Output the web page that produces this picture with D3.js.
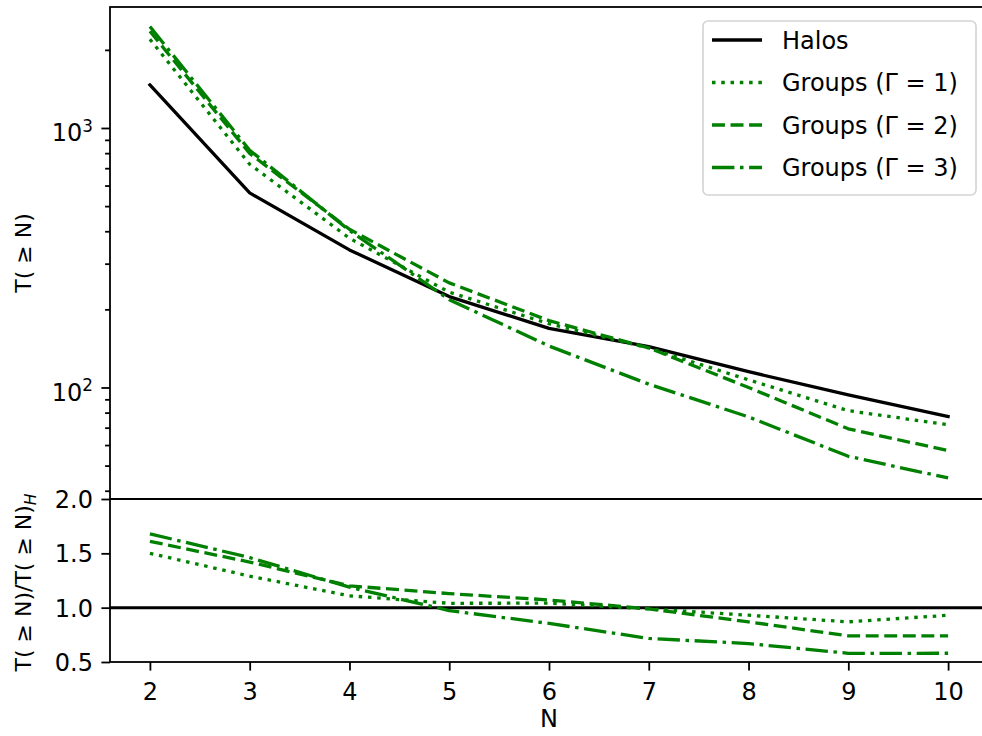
<!DOCTYPE html>
<html>
<head>
<meta charset="utf-8">
<script src="https://cdn.jsdelivr.net/npm/d3@7/dist/d3.min.js"></script>
<style>
  html, body { margin: 0; padding: 0; background: #fff; }
  svg { display: block; font-family: "DejaVu Sans", sans-serif; }
</style>
</head>
<body>
<svg id="chart" width="982" height="736"></svg>
<script>
// ---------------- data ----------------
const Ns = [2, 3, 4, 5, 6, 7, 8, 9, 10];
const halos   = [1465, 562, 339, 224, 169, 143.6, 115, 93.6, 77.2];
const groupsG1 = [2198, 725, 376, 233, 176, 142, 107, 81.4, 71.8];
const groupsG2 = [2359, 798, 407, 253, 181, 142, 100, 69.3, 57.1];
const groupsG3 = [2461, 821, 403, 218, 144.5, 103, 77, 54.3, 44.8];
const seriesNames = ["Halos", "Groups (Γ = 1)", "Groups (Γ = 2)", "Groups (Γ = 3)"];
const xTicks = [2, 3, 4, 5, 6, 7, 8, 9, 10];
const topMajorTicks = [100, 1000];
const topMinorTicks = [40, 50, 60, 70, 80, 90, 200, 300, 400, 500, 600, 700, 800, 900, 2000];
const ratioTicks = [0.5, 1.0, 1.5, 2.0];

// ---------------- layout ----------------
const FS = 24;
const LW = 3.3;
const DU = 3.5; // dash unit
const SPINE = 1.8;
const TICK = 8.6, MINOR = 4.9, PAD = 8.4;
const pLeft = 110, pRight = 988, pTop = 7, pMid = 499, pBottom = 662;

const svg = d3.select("#chart");
const x = d3.scaleLinear().domain([1.6, 10.4]).range([pLeft, pRight]);
const yTop = d3.scaleLog().domain([37.17, 2926]).range([pMid, pTop]);
const yBot = d3.scaleLinear().domain([0.5, 2.0]).range([pBottom, pMid]);

const green = "#008000";
const styles = [
  { color: "#000000", dash: null },
  { color: green, dash: [1 * DU, 1.65 * DU] },
  { color: green, dash: [3.7 * DU, 1.6 * DU] },
  { color: green, dash: [6.4 * DU, 1.6 * DU, 1 * DU, 1.6 * DU] }
];

const defs = svg.append("defs");
defs.append("clipPath").attr("id", "clipTop").append("rect")
  .attr("x", pLeft).attr("y", pTop).attr("width", pRight - pLeft).attr("height", pMid - pTop);
defs.append("clipPath").attr("id", "clipBot").append("rect")
  .attr("x", pLeft).attr("y", pMid).attr("width", pRight - pLeft).attr("height", pBottom - pMid);

const allSeries = [halos, groupsG1, groupsG2, groupsG3];

// ---------------- top panel ----------------
const gTop = svg.append("g").attr("clip-path", "url(#clipTop)");
const lineTop = d3.line().x((d, i) => x(Ns[i])).y(d => yTop(d));
allSeries.forEach((s, k) => {
  gTop.append("path").datum(s)
    .attr("d", lineTop)
    .attr("fill", "none")
    .attr("stroke", styles[k].color)
    .attr("stroke-width", LW)
    .attr("stroke-linejoin", "round")
    .attr("stroke-linecap", styles[k].dash ? "butt" : "square")
    .attr("stroke-dasharray", styles[k].dash ? styles[k].dash.join(",") : null);
});

// ---------------- bottom panel ----------------
const gBot = svg.append("g").attr("clip-path", "url(#clipBot)");
gBot.append("line")
  .attr("x1", pLeft).attr("x2", pRight)
  .attr("y1", yBot(1)).attr("y2", yBot(1))
  .attr("stroke", "#000").attr("stroke-width", 3.0);
const lineBot = d3.line().x(d => x(d.n)).y(d => yBot(d.r));
[groupsG1, groupsG2, groupsG3].forEach((s, j) => {
  const k = j + 1;
  const data = s.map((v, i) => ({ n: Ns[i], r: v / halos[i] }));
  gBot.append("path").datum(data)
    .attr("d", lineBot)
    .attr("fill", "none")
    .attr("stroke", styles[k].color)
    .attr("stroke-width", LW)
    .attr("stroke-linejoin", "round")
    .attr("stroke-linecap", "butt")
    .attr("stroke-dasharray", styles[k].dash.join(","));
});

// ---------------- axes ----------------
function styleAxis(g) {
  g.select(".domain").remove();
  g.selectAll(".tick line").attr("stroke", "#000").attr("stroke-width", SPINE);
  g.selectAll(".tick text").attr("fill", "#000").style("font-size", FS + "px")
    .style("font-family", "'DejaVu Sans', sans-serif");
}

const xAxis = svg.append("g").attr("transform", `translate(0,${pBottom})`)
  .call(d3.axisBottom(x).tickValues(xTicks).tickSize(TICK).tickPadding(PAD).tickFormat(d3.format("d")));
styleAxis(xAxis);
xAxis.selectAll(".tick text").attr("dy", null).attr("y", TICK + PAD + 21);

const yMinor = svg.append("g").attr("transform", `translate(${pLeft},0)`)
  .call(d3.axisLeft(yTop).tickValues(topMinorTicks).tickSize(MINOR).tickFormat(""));
styleAxis(yMinor);

const yMajor = svg.append("g").attr("transform", `translate(${pLeft},0)`)
  .call(d3.axisLeft(yTop).tickValues(topMajorTicks).tickSize(TICK).tickPadding(PAD).tickFormat(""));
styleAxis(yMajor);
yMajor.selectAll(".tick").each(function (d) {
  const t = d3.select(this).select("text");
  const exp = Math.round(Math.log10(d));
  t.attr("dy", null).attr("y", 13).attr("x", -(TICK + PAD))
    .attr("text-anchor", "end");
  t.text("");
  t.append("tspan").text("10");
  t.append("tspan").text(exp).style("font-size", (FS * 0.7) + "px").attr("dy", -9.5);
});

const yRatio = svg.append("g").attr("transform", `translate(${pLeft},0)`)
  .call(d3.axisLeft(yBot).tickValues(ratioTicks).tickSize(TICK).tickPadding(PAD).tickFormat(d3.format(".1f")));
styleAxis(yRatio);
yRatio.selectAll(".tick text").attr("dy", null).attr("y", 8.5);

// ---------------- spines ----------------
const sp = svg.append("g").attr("stroke", "#000").attr("stroke-width", SPINE).attr("fill", "none");
sp.append("rect").attr("x", pLeft).attr("y", pTop).attr("width", pRight - pLeft).attr("height", pMid - pTop);
sp.append("rect").attr("x", pLeft).attr("y", pMid).attr("width", pRight - pLeft).attr("height", pBottom - pMid);

// ---------------- labels ----------------
svg.append("text")
  .attr("x", (pLeft + pRight) / 2).attr("y", 727)
  .attr("text-anchor", "middle").style("font-size", FS + "px").text("N");

svg.append("text")
  .attr("transform", `translate(31,${(pTop + pMid) / 2}) rotate(-90)`)
  .attr("text-anchor", "middle").style("font-size", "22px").text("T( ≥ N)");

const lbl2 = svg.append("text")
  .attr("transform", `translate(31,${(pMid + pBottom) / 2 + 2}) rotate(-90)`)
  .attr("text-anchor", "middle").style("font-size", "22px");
lbl2.append("tspan").text("T( ≥ N)/T( ≥ N)");
lbl2.append("tspan").text("H").style("font-size", "15.5px").style("font-style", "italic").attr("dy", 5);

// ---------------- legend ----------------
const leg = svg.append("g");
leg.append("rect")
  .attr("x", 703).attr("y", 21).attr("width", 273).attr("height", 174)
  .attr("rx", 5).attr("ry", 5)
  .attr("fill", "#fff").attr("fill-opacity", 0.8)
  .attr("stroke", "#d3d3d3").attr("stroke-width", 1.6);
const rowY = [40, 82.5, 125, 167.5];
seriesNames.forEach((name, k) => {
  const y = rowY[k];
  leg.append("line")
    .attr("x1", 712).attr("x2", 762).attr("y1", y).attr("y2", y)
    .attr("stroke", styles[k].color).attr("stroke-width", LW)
    .attr("stroke-linecap", "butt")
    .attr("stroke-dasharray", styles[k].dash ? styles[k].dash.join(",") : null);
  leg.append("text").attr("x", 782).attr("y", y + 8.5)
    .style("font-size", FS + "px").text(name);
});
</script>
</body>
</html>
